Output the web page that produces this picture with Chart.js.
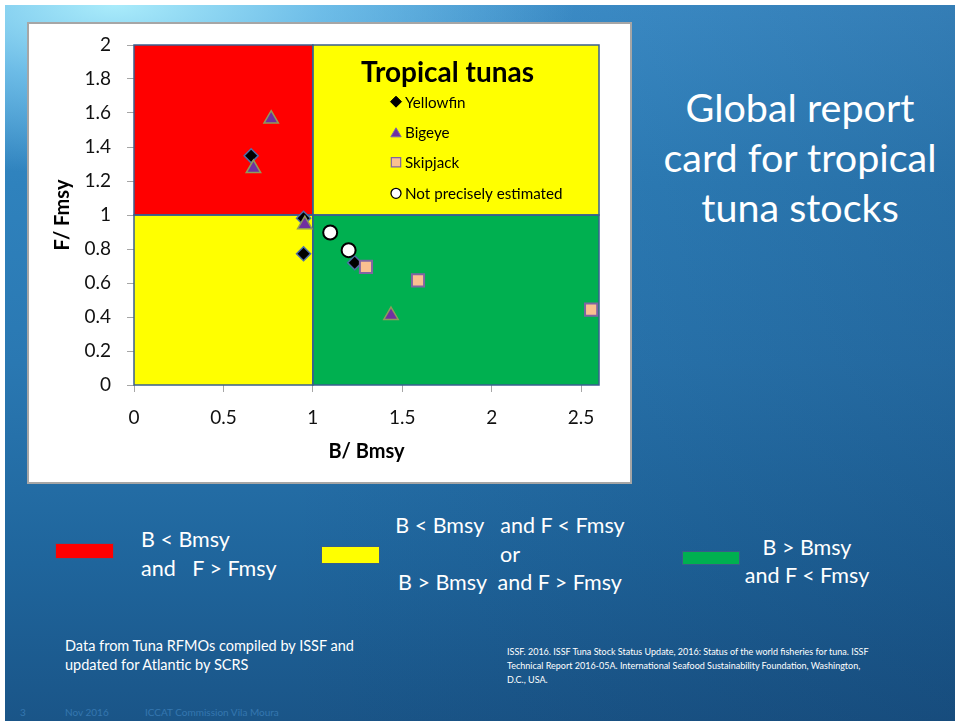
<!DOCTYPE html>
<html><head><meta charset="utf-8">
<script src="https://cdn.jsdelivr.net/npm/chart.js@4/dist/chart.umd.min.js"></script>
<style>
html,body{margin:0;padding:0;background:#fff;width:960px;height:724px;overflow:hidden;font-family:Lato,"Open Sans",sans-serif;}
#slide{position:absolute;left:5px;top:5px;width:950px;height:716px;overflow:hidden;
 background:
  radial-gradient(ellipse 460px 170px at 110px 0px, rgba(175,240,253,0.95) 0%, rgba(135,212,246,0.65) 45%, rgba(120,195,240,0) 100%),
  linear-gradient(to right, rgba(0,0,0,0) 30%, rgba(10,40,80,0.2) 100%),
  linear-gradient(to bottom, #3f93cf 0%, #2f82bd 25%, #2a78b2 50%, #1f659c 78%, #1a5588 100%);}
#box{position:absolute;left:27px;top:22px;width:601px;height:458px;border:2px solid #a6a6a6;background:#fff;}
#box canvas{position:absolute;left:0;top:0;}
.t{position:absolute;color:#fff;white-space:pre;}
.sw{position:absolute;border:1px solid #385d8a;box-sizing:border-box;}
</style></head>
<body>
<div id="slide"></div>
<div id="box"><canvas id="c" width="601" height="458"></canvas></div>

<div class="t" style="left:640px;top:82px;width:320px;text-align:center;font-size:39.5px;line-height:50px;">Global report
card for tropical
tuna stocks</div>

<div class="sw" style="left:55px;top:543px;width:59px;height:16px;background:#FF0000;"></div>
<div class="t" style="left:141px;top:525px;font-size:21.5px;line-height:29px;">B &lt; Bmsy
and   F &gt; Fmsy</div>

<div class="sw" style="left:321px;top:546px;width:59px;height:18px;background:#FFFF00;"></div>
<div class="t" style="left:360px;top:511px;width:300px;text-align:center;font-size:21.5px;line-height:28.5px;">B &lt; Bmsy   and F &lt; Fmsy
or
B &gt; Bmsy  and F &gt; Fmsy</div>

<div class="sw" style="left:682px;top:551px;width:58px;height:14px;background:#00B050;"></div>
<div class="t" style="left:707px;top:534px;width:200px;text-align:center;font-size:21.5px;line-height:27.5px;">B &gt; Bmsy
and F &lt; Fmsy</div>

<div class="t" style="left:65px;top:636px;font-size:14.5px;line-height:19px;">Data from Tuna RFMOs compiled by ISSF and
updated for Atlantic by SCRS</div>

<div class="t" style="left:507px;top:645px;font-size:9px;line-height:14px;">ISSF. 2016. ISSF Tuna Stock Status Update, 2016: Status of the world fisheries for tuna. ISSF
Technical Report 2016-05A. International Seafood Sustainability Foundation, Washington,
D.C., USA.</div>

<div class="t" style="left:20px;top:706px;font-size:10px;color:#3577b0;">3</div>
<div class="t" style="left:65px;top:706px;font-size:10px;color:#3577b0;">Nov 2016</div>
<div class="t" style="left:145px;top:706px;font-size:10px;color:#3577b0;">ICCAT Commission Vila Moura</div>

<script>
// ---- data ----
const yellowfinB = [0.655, 0.948, 0.948, 1.234];
const yellowfinF = [1.348, 0.981, 0.772, 0.719];
const bigeyeB = [0.767, 0.668, 0.955, 1.437];
const bigeyeF = [1.565, 1.274, 0.944, 0.410];
const skipjackB = [1.297, 1.588, 2.556];
const skipjackF = [0.695, 0.615, 0.443];
const uncertainB = [1.097, 1.200];
const uncertainF = [0.897, 0.793];
const seriesNames = ['Yellowfin', 'Bigeye', 'Skipjack', 'Not precisely estimated'];
const xTicks = [0, 0.5, 1, 1.5, 2, 2.5];
const yTicks = [0, 0.2, 0.4, 0.6, 0.8, 1, 1.2, 1.4, 1.6, 1.8, 2];
// quadrant zones (B/Bmsy, F/Fmsy limits)
const zoneXMin = [0, 1, 0, 1];
const zoneXMax = [1, 2.6, 1, 2.6];
const zoneYMin = [1, 1, 0, 0];
const zoneYMax = [2, 2, 1, 1];
const zoneColors = ['#FF0000', '#FFFF00', '#FFFF00', '#00B050'];

const pts = (xs, ys) => xs.map((v, i) => ({x: v, y: ys[i]}));
const FONT = 'Lato, "Open Sans", sans-serif';

const zonesPlugin = {
  id: 'zones',
  beforeDatasetsDraw(chart) {
    const {ctx, scales: {x, y}} = chart;
    ctx.save();
    zoneColors.forEach((c, i) => {
      const l = x.getPixelForValue(zoneXMin[i]), r = x.getPixelForValue(zoneXMax[i]);
      const t = y.getPixelForValue(zoneYMax[i]), b = y.getPixelForValue(zoneYMin[i]);
      ctx.fillStyle = c;
      ctx.fillRect(l, t, r - l, b - t);
    });
    ctx.strokeStyle = '#3a5f8f';
    ctx.lineWidth = 1.5;
    zoneColors.forEach((c, i) => {
      const l = x.getPixelForValue(zoneXMin[i]), r = x.getPixelForValue(zoneXMax[i]);
      const t = y.getPixelForValue(zoneYMax[i]), b = y.getPixelForValue(zoneYMin[i]);
      ctx.strokeRect(l, t, r - l, b - t);
    });
    ctx.restore();
  }
};

const legendPlugin = {
  id: 'innerLegend',
  afterDatasetsDraw(chart) {
    const ctx = chart.ctx;
    ctx.save();
    ctx.fillStyle = '#000';
    ctx.textBaseline = 'alphabetic';
    ctx.font = 'bold 28px ' + FONT;
    ctx.fillText('Tropical tunas', 332, 57.5);
    const rows = [77.7, 108.3, 138.3, 169.3];
    const mk = [
      {pointStyle: 'rectRot', radius: 5.5, borderWidth: 1, bg: '#000', bc: '#000'},
      {pointStyle: 'triangle', radius: 6, borderWidth: 1, bg: '#7030A0', bc: '#7a6aa8'},
      {pointStyle: 'rect', radius: 6.6, borderWidth: 1.2, bg: '#FAC090', bc: '#8064A2'},
      {pointStyle: 'circle', radius: 5, borderWidth: 1.3, bg: '#fff', bc: '#000'}
    ];
    ctx.font = '15.2px ' + FONT;
    ctx.textBaseline = 'middle';
    seriesNames.forEach((n, i) => {
      const m = mk[i];
      ctx.fillStyle = m.bg; ctx.strokeStyle = m.bc; ctx.lineWidth = m.borderWidth;
      Chart.helpers.drawPoint(ctx, {pointStyle: m.pointStyle, radius: m.radius, borderWidth: m.borderWidth, rotation: 0}, 367, rows[i] + (i === 1 ? 1.5 : 0));
      ctx.fillStyle = '#000';
      ctx.fillText(n, 376, rows[i] + 1);
    });
    ctx.restore();
  }
};

new Chart(document.getElementById('c'), {
  type: 'scatter',
  data: {
    datasets: [
      {label: seriesNames[0], data: pts(yellowfinB, yellowfinF), order: 3,
       pointStyle: 'rectRot', radius: 7, backgroundColor: '#000', borderColor: '#4f6fa8', borderWidth: 1.5},
      {label: seriesNames[1], data: pts(bigeyeB, bigeyeF), order: 2,
       pointStyle: 'triangle', radius: 8.3, backgroundColor: '#7030A0', borderColor: '#8f9b5b', borderWidth: 1.5},
      {label: seriesNames[2], data: pts(skipjackB, skipjackF), order: 1,
       pointStyle: 'rect', radius: 8.6, backgroundColor: '#FAC090', borderColor: '#8064A2', borderWidth: 2},
      {label: seriesNames[3], data: pts(uncertainB, uncertainF), order: 0,
       pointStyle: 'circle', radius: 7, backgroundColor: '#fff', borderColor: '#000', borderWidth: 2}
    ]
  },
  options: {
    responsive: false, animation: false,
    layout: {padding: {left: 0, top: 21, right: 31, bottom: 0}},
    plugins: {legend: {display: false}, tooltip: {enabled: false}},
    scales: {
      x: {
        type: 'linear', min: 0, max: 2.6,
        afterBuildTicks: s => { s.ticks = xTicks.map(v => ({value: v})); },
        afterFit: s => { s.height = 97; s.paddingLeft = 0; s.paddingRight = 0; },
        grid: {drawOnChartArea: false, drawTicks: true, tickLength: 7, color: '#a6a6a6'},
        border: {display: false},
        ticks: {padding: 14, color: '#111', font: {family: FONT, size: 19}, callback: v => String(v)},
        title: {display: true, text: 'B/ Bmsy', color: '#000', font: {family: FONT, size: 20, weight: 'bold'}, padding: {top: 0, bottom: 18}}
      },
      y: {
        type: 'linear', min: 0, max: 2,
        afterBuildTicks: s => { s.ticks = yTicks.map(v => ({value: v})); },
        afterFit: s => { s.width = 105; s.paddingTop = 0; s.paddingBottom = 0; },
        grid: {drawOnChartArea: false, drawTicks: true, tickLength: 7, color: '#a6a6a6'},
        border: {display: false},
        ticks: {padding: 16, color: '#111', font: {family: FONT, size: 19}, callback: v => String(v)},
        title: {display: true, text: 'F/ Fmsy', color: '#000', font: {family: FONT, size: 20, weight: 'bold'}, padding: {top: 22, bottom: 0}}
      }
    }
  },
  plugins: [zonesPlugin, legendPlugin]
});
</script>
</body></html>
